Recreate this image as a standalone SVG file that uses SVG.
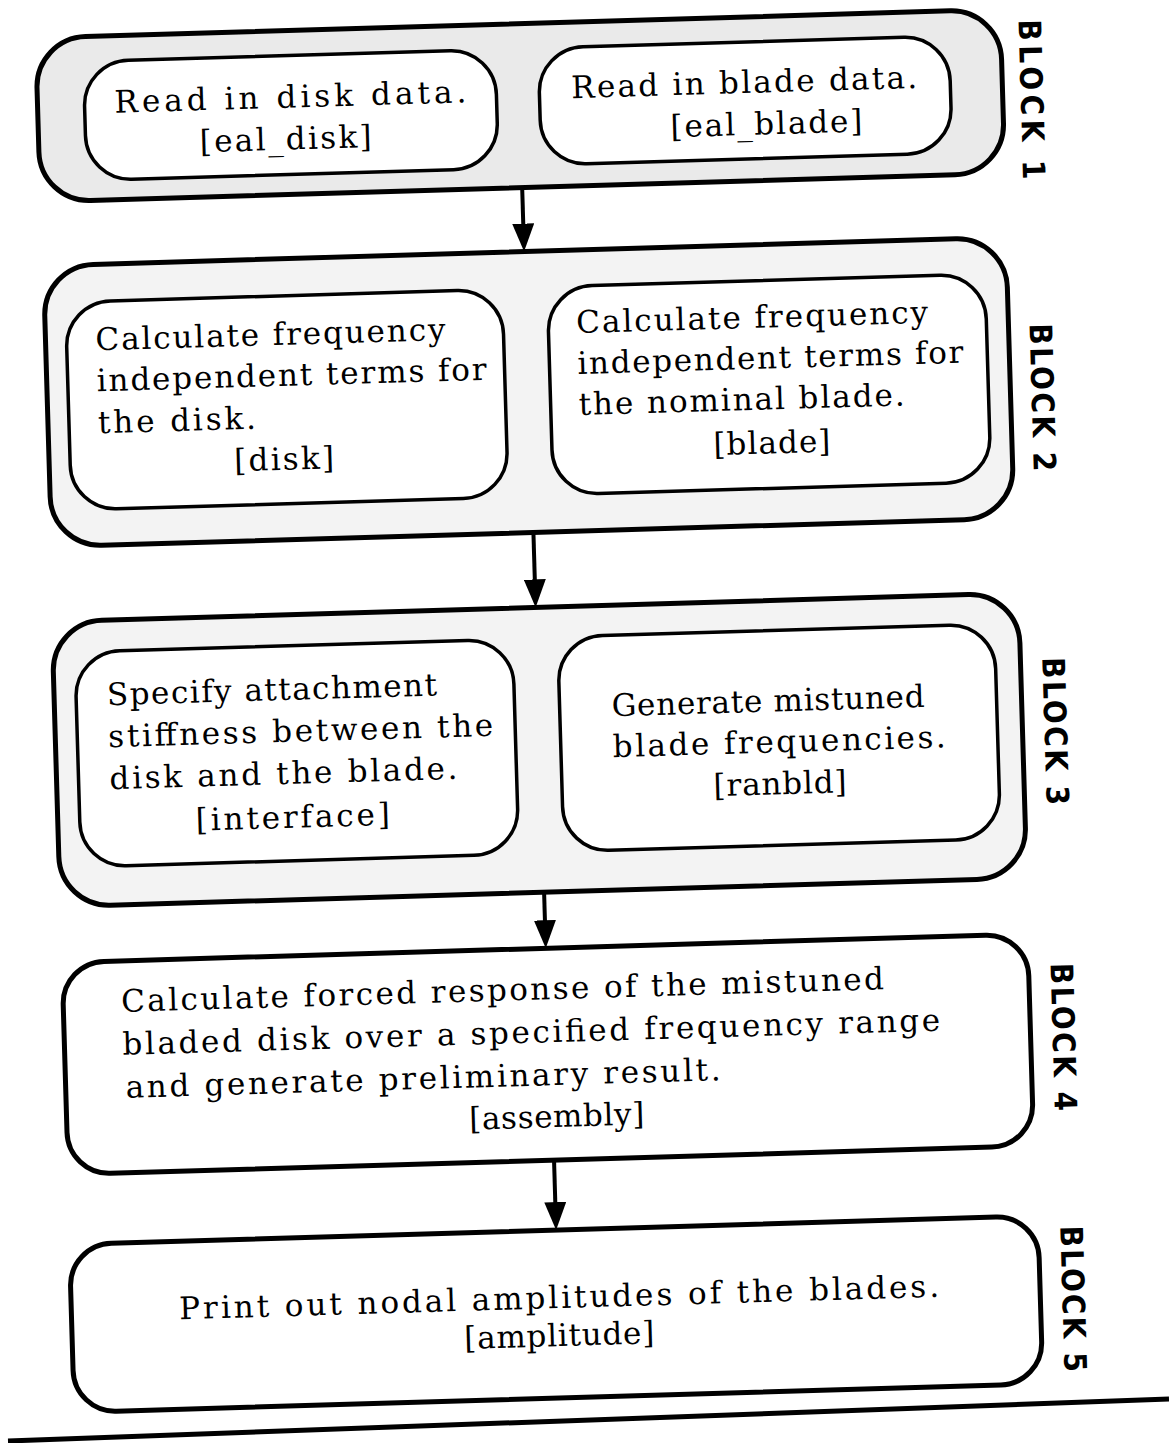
<svg xmlns="http://www.w3.org/2000/svg" width="1169" height="1443" viewBox="0 0 1169 1443">
<defs>
<style>
.outer{fill:#f3f3f3;stroke:#000;stroke-width:5}
.outer1{fill:#eaeaea;stroke:#000;stroke-width:5}
.plain{fill:#fff;stroke:#000;stroke-width:5}
.inner{fill:#fff;stroke:#000;stroke-width:3.5}
.t{font-family:'DejaVu Serif','Liberation Serif',serif;font-size:31px;fill:#000}
.m{text-anchor:middle}
.lbl{font-family:'Liberation Sans Narrow','DejaVu Sans Condensed','Liberation Sans',sans-serif;font-weight:bold;font-size:31px;fill:#000}
.conn{stroke:#000;stroke-width:4;fill:none}
</style>
<marker id="arr" markerUnits="userSpaceOnUse" viewBox="0 0 28 22" refX="20" refY="11" markerWidth="28" markerHeight="22" orient="auto">
<path d="M0,0 L28,11 L0,22 z" fill="#000"/>
</marker>
</defs>
<rect width="1169" height="1443" fill="#fff"/>
<g transform="rotate(-1.7 585 720)">
<g id="block1">
<rect class="outer1" x="56" y="22" width="965" height="164" rx="50"/>
<text class="lbl" transform="translate(1050 113) rotate(90)" text-anchor="middle" dominant-baseline="central" textLength="160" lengthAdjust="spacing">BLOCK 1</text>
</g>
<g id="node-eal_disk">
<rect class="inner" x="103" y="47" width="412" height="119" rx="45"/>
<text class="t m" x="309" y="99" textLength="352" lengthAdjust="spacing">Read in disk data.</text>
<text class="t m" x="303" y="141" textLength="172" lengthAdjust="spacing">[eal_disk]</text>
</g>
<g id="node-eal_blade">
<rect class="inner" x="558" y="47" width="411" height="117" rx="45"/>
<text class="t m" x="763" y="98" textLength="346" lengthAdjust="spacing">Read in blade data.</text>
<text class="t m" x="784" y="140" textLength="192" lengthAdjust="spacing">[eal_blade]</text>
</g>
<g id="block2">
<rect class="outer" x="57" y="250" width="963" height="281" rx="50"/>
<text class="lbl" transform="translate(1052 411) rotate(90)" text-anchor="middle" dominant-baseline="central" textLength="148" lengthAdjust="spacing">BLOCK 2</text>
</g>
<g id="node-disk">
<rect class="inner" x="78" y="287" width="437" height="208" rx="45"/>
<text class="t" x="107" y="336" textLength="350" lengthAdjust="spacing">Calculate frequency</text>
<text class="t" x="107" y="377" textLength="390" lengthAdjust="spacing">independent terms for</text>
<text class="t" x="107" y="419" textLength="158" lengthAdjust="spacing">the disk.</text>
<text class="t m" x="292" y="461" textLength="100" lengthAdjust="spacing">[disk]</text>
</g>
<g id="node-blade">
<rect class="inner" x="560" y="286" width="438" height="208" rx="45"/>
<text class="t" x="588" y="333" textLength="352" lengthAdjust="spacing">Calculate frequency</text>
<text class="t" x="588" y="374" textLength="386" lengthAdjust="spacing">independent terms for</text>
<text class="t" x="588" y="415" textLength="326" lengthAdjust="spacing">the nominal blade.</text>
<text class="t m" x="780" y="459" textLength="117" lengthAdjust="spacing">[blade]</text>
</g>
<g id="block3">
<rect class="outer" x="55" y="606" width="967" height="285" rx="50"/>
<text class="lbl" transform="translate(1055 745) rotate(90)" text-anchor="middle" dominant-baseline="central" textLength="148" lengthAdjust="spacing">BLOCK 3</text>
</g>
<g id="node-interface">
<rect class="inner" x="77" y="637" width="438" height="215" rx="45"/>
<text class="t" x="108" y="691" textLength="330" lengthAdjust="spacing">Specify attachment</text>
<text class="t" x="108" y="733" textLength="385" lengthAdjust="spacing">stiffness between the</text>
<text class="t" x="108" y="775" textLength="348" lengthAdjust="spacing">disk and the blade.</text>
<text class="t m" x="290" y="819" textLength="194" lengthAdjust="spacing">[interface]</text>
</g>
<g id="node-ranbld">
<rect class="inner" x="560" y="636" width="437" height="215" rx="45"/>
<text class="t" x="612" y="717" textLength="313" lengthAdjust="spacing">Generate mistuned</text>
<text class="t" x="612" y="758" textLength="333" lengthAdjust="spacing">blade frequencies.</text>
<text class="t m" x="778" y="800" textLength="133" lengthAdjust="spacing">[ranbld]</text>
</g>
<g id="node-assembly">
<rect class="plain" x="55" y="947" width="966" height="212" rx="42"/>
<text class="t" x="113" y="998" textLength="763" lengthAdjust="spacing">Calculate forced response of the mistuned</text>
<text class="t" x="113" y="1041" textLength="818" lengthAdjust="spacing">bladed disk over a specified frequency range</text>
<text class="t" x="115" y="1084" textLength="595" lengthAdjust="spacing">and generate preliminary result.</text>
<text class="t m" x="545" y="1126" textLength="175" lengthAdjust="spacing">[assembly]</text>
<text class="lbl" transform="translate(1054 1051) rotate(90)" text-anchor="middle" dominant-baseline="central" textLength="148" lengthAdjust="spacing">BLOCK 4</text>
</g>
<g id="node-amplitude">
<rect class="plain" x="54" y="1229" width="969" height="168" rx="42"/>
<text class="t m" x="542" y="1307" textLength="760" lengthAdjust="spacing">Print out nodal amplitudes of the blades.</text>
<text class="t m" x="541" y="1345" textLength="190" lengthAdjust="spacing">[amplitude]</text>
<text class="lbl" transform="translate(1056 1313) rotate(90)" text-anchor="middle" dominant-baseline="central" textLength="146" lengthAdjust="spacing">BLOCK 5</text>
</g>
<g id="connectors">
<path class="conn" d="M538,186 L538,242" marker-end="url(#arr)"/>
<path class="conn" d="M539,531 L539,598" marker-end="url(#arr)"/>
<path class="conn" d="M539,891 L539,939" marker-end="url(#arr)"/>
<path class="conn" d="M541,1159 L541,1221" marker-end="url(#arr)"/>
</g>
</g>
<line x1="8" y1="1441" x2="1169" y2="1399" stroke="#000" stroke-width="5"/>
</svg>
